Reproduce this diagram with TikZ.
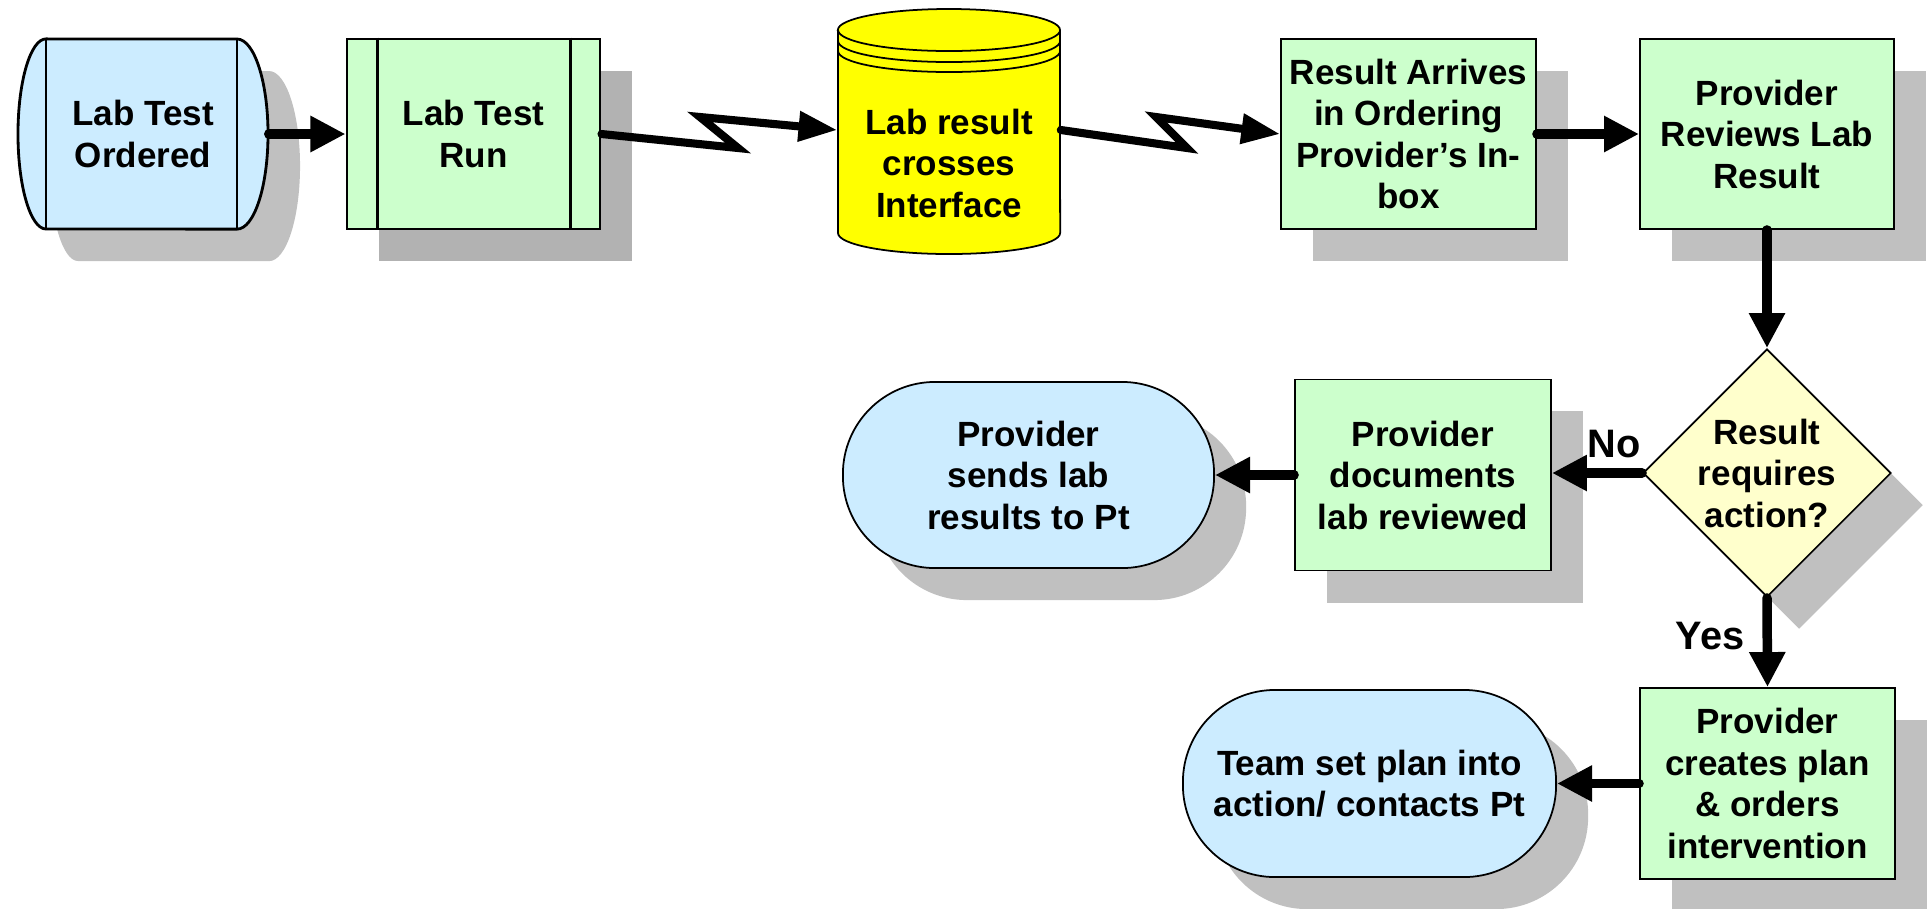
\documentclass[tikz,border=0pt]{standalone}
\usepackage{fontspec}
\setmainfont{Liberation Sans}
\usetikzlibrary{arrows.meta,shapes.geometric,shadows,calc}
\definecolor{termblue}{HTML}{CCECFF}
\definecolor{procgreen}{HTML}{CCFFCC}
\definecolor{dbyellow}{HTML}{FFFF00}
\definecolor{decyellow}{HTML}{FFFFCC}
\definecolor{shadowgray}{HTML}{C0C0C0}
\definecolor{shadowdark}{HTML}{B2B2B2}
\begin{document}
\begin{tikzpicture}[x=0.01cm,y=-0.01cm,
  every node/.style={font=\fontsize{9.96}{11.8}\selectfont\bfseries, align=center, inner sep=0pt},
  branchlabel/.style={font=\fontsize{11.3}{13}\selectfont\bfseries},
  dropgray/.style={drop shadow={shadow xshift=0.32cm,shadow yshift=-0.32cm,fill=shadowgray,opacity=1}},
  dropdark/.style={drop shadow={shadow xshift=0.32cm,shadow yshift=-0.32cm,fill=shadowdark,opacity=1}},
  procbox/.style={rectangle, draw, line width=0.5pt, fill=procgreen, dropgray,
    minimum width=2.55cm, minimum height=1.90cm},
  termbox/.style={rectangle, rounded corners=0.92cm, draw, line width=0.5pt, fill=termblue, dropgray,
    minimum width=3.72cm, minimum height=1.86cm},
  decbox/.style={diamond, draw, line width=0.5pt, fill=decyellow, dropgray,
    minimum width=2.48cm, minimum height=2.48cm},
  flow/.style={line width=2.7pt, line cap=round, -{Triangle[length=9.96pt,width=9.67pt]}},
  zig/.style={line width=2.3pt, line cap=round, -{Triangle[length=11pt,width=8.2pt]}},
]
\useasboundingbox (0,0) rectangle (1927,908);

% --- start terminal: stored-data style capsule with inner rules ---
\fill[shadowgray, shift={(0.32cm,-0.32cm)}] (46,39) -- (237,39)
  arc[start angle=90,end angle=-90,x radius=0.31cm,y radius=0.95cm] -- (46,229)
  arc[start angle=270,end angle=90,x radius=0.28cm,y radius=0.95cm] -- cycle;
\filldraw[fill=termblue, line width=0.8pt] (46,39) -- (237,39)
  arc[start angle=90,end angle=-90,x radius=0.31cm,y radius=0.95cm] -- (46,229)
  arc[start angle=270,end angle=90,x radius=0.28cm,y radius=0.95cm] -- cycle;
\draw[line width=0.8pt] (46,39) -- (46,229) (237,39) -- (237,229);
\node[minimum width=2.50cm, minimum height=1.90cm] (n1) at (143,134) {Lab Test\\Ordered};

% --- predefined process box ---
\node[procbox, dropdark, line width=0.8pt, minimum width=2.53cm] (n2) at (473.5,134) {Lab Test\\Run};
\draw[line width=0.8pt] ([xshift=0.32cm]n2.north west) -- ([xshift=0.32cm]n2.south west)
  ([xshift=-0.31cm]n2.north east) -- ([xshift=-0.31cm]n2.south east);

% --- interface database cylinder ---
\filldraw[fill=dbyellow, line width=0.5pt] (838,30) -- (838,233)
  arc[start angle=180,end angle=360,x radius=1.11cm,y radius=0.21cm] -- (1060,30)
  arc[start angle=0,end angle=180,x radius=1.11cm,y radius=0.21cm] -- cycle;
\foreach \yy in {30,41,51}
  \draw[line width=0.5pt] (838,\yy) arc[start angle=180,end angle=360,x radius=1.11cm,y radius=0.21cm];
\node[minimum width=2.22cm, minimum height=2.46cm] (n3) at (949,131) {};
\node (n3text) at ($(n3.center)+(0,32)$) {Lab result\\crosses\\Interface};

% --- process boxes, top row ---
\node[procbox] (n4) at (1408.5,134) {Result Arrives\\in Ordering\\Provider’s In-\\box};
\node[procbox, minimum width=2.54cm] (n5) at (1767,134) {Provider\\Reviews Lab\\Result};

% --- decision ---
\node[decbox] (n6) at (1767,473) {};
\node (n6text) at (n6.center) {Result\\requires\\action?};

% --- lower rows ---
\node[procbox, minimum width=2.56cm, minimum height=1.91cm] (n7) at (1423,475) {Provider\\documents\\lab reviewed};
\node[termbox, minimum width=3.71cm] (n8) at (1028.5,475) {Provider\\sends lab\\results to Pt};
\node[procbox, minimum height=1.91cm] (n9) at (1767.5,783.5) {Provider\\creates plan\\\& orders\\intervention};
\node[termbox, minimum width=3.73cm, minimum height=1.87cm] (n10) at (1369.5,783.5) {Team set plan into\\action/ contacts Pt};

% --- connectors ---
\draw[flow] (n1.east) -- (n2.west);
\coordinate (k1) at (738,148);
\coordinate (k2) at (700,117);
\draw[zig] (n2.east) -- (k1) -- (k2) -- ([yshift=0.01cm]n3.west);
\coordinate (k3) at (1187,148);
\coordinate (k4) at (1156,117);
\draw[zig] ([yshift=0.01cm]n3.east) -- (k3) -- (k4) -- (n4.west);
\draw[flow] (n4.east) -- (n5.west);
\draw[flow] (n5.south) -- (n6.north);
\draw[flow] (n6.west) -- (n6.west -| n7.east);
\draw[flow] (n7.west) -- (n8.east);
\draw[flow] (n6.south) -- (n9.north);
\draw[flow] (n9.west) -- (n10.east);

% --- branch labels ---
\node[branchlabel] (lno) at (1614,444) {No};
\node[branchlabel] (lyes) at (1710,636) {Yes};
\end{tikzpicture}
\end{document}
